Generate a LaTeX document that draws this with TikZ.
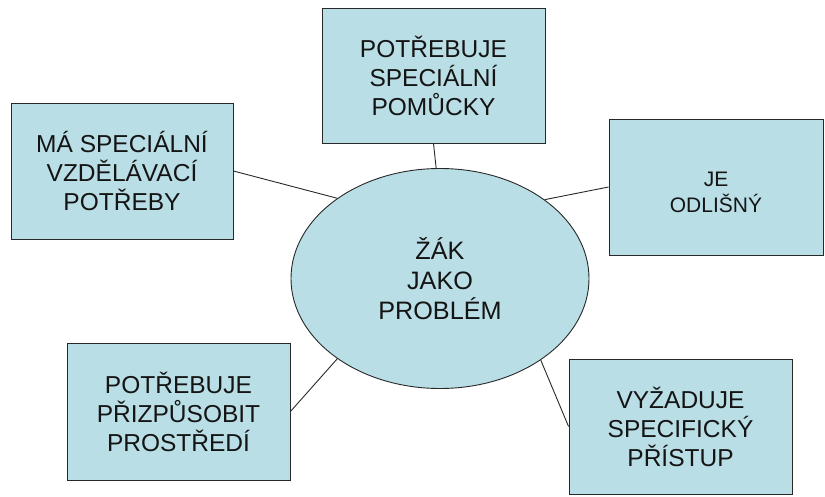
\documentclass[tikz,border=0pt]{standalone}
\usepackage{fontspec}
\setmainfont{Liberation Sans}
\usetikzlibrary{shapes.geometric}
\definecolor{boxfill}{RGB}{185,222,230}
\definecolor{edge}{RGB}{40,40,40}
\definecolor{ink}{RGB}{20,20,20}
\begin{document}
\begin{tikzpicture}[x=1pt,y=-1pt,
  every node/.style={text=ink, align=center, inner sep=0pt},
  card/.style={draw=edge, line width=0.9pt, fill=boxfill,
    font=\fontsize{24.5}{29}\selectfont},
  hub/.style={ellipse, draw=edge, line width=0.9pt, fill=boxfill,
    minimum width=298, minimum height=220,
    font=\fontsize{25.2}{30}\selectfont},
  link/.style={draw=edge, line width=0.9pt}]
  \useasboundingbox (0,0) rectangle (825,496);

  % central ellipse
  \node[hub] (zak) at (440,278.5) {ŽÁK\\JAKO\\PROBLÉM};

  % surrounding cards
  \node[card, minimum width=223, minimum height=135] (pomucky) at (433.5,75.5)
    {POTŘEBUJE\\SPECIÁLNÍ\\POMŮCKY};
  \node[card, minimum width=222, minimum height=136] (potreby) at (122,171)
    {MÁ SPECIÁLNÍ\\VZDĚLÁVACÍ\\POTŘEBY};
  \node[card, minimum width=214, minimum height=136] (odlisny) at (716,187) {};
  \node[font=\fontsize{21}{26}\selectfont] (odlisnytext)
    at ([yshift=-5pt]odlisny.center) {JE\\ODLIŠNÝ};
  \node[card, minimum width=223, minimum height=135] (pristup) at (680.5,426.5)
    {VYŽADUJE\\SPECIFICKÝ\\PŘÍSTUP};
  \node[card, minimum width=223, minimum height=137] (prostredi) at (178.5,411.5)
    {POTŘEBUJE\\PŘIZPŮSOBIT\\PROSTŘEDÍ};

  % connectors
  \draw[link] (pomucky.south) -- (zak.92);
  \draw[link] (potreby.east) -- (zak.142);
  \draw[link] (odlisny.west) -- (zak.37);
  \draw[link] (pristup.west) -- (zak.-39);
  \draw[link] (prostredi.east) -- (zak.218);
\end{tikzpicture}
\end{document}
